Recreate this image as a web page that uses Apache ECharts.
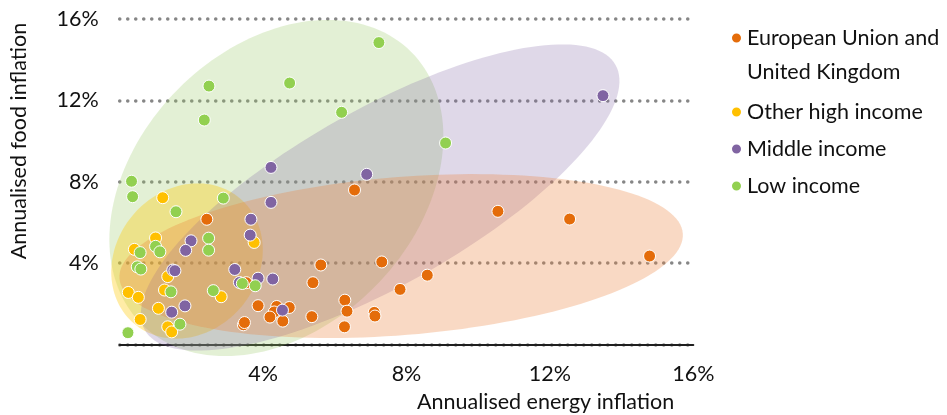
<!DOCTYPE html>
<html><head><meta charset="utf-8">
<script src="https://cdn.jsdelivr.net/npm/echarts@6/dist/echarts.min.js"></script>
<style>html,body{margin:0;padding:0;background:#fff}#c{width:947px;height:415px}</style>
</head><body><div id="c"></div>
<script>
// ---- data (x = annualised energy inflation %, y = annualised food inflation %) ----
const seriesNames = ['European Union and United Kingdom', 'Other high income', 'Middle income', 'Low income'];
const xTickLabels = ['4%', '8%', '12%', '16%'];
const yTickLabels = ['4%', '8%', '12%', '16%'];

const euData = [
  [2.43, 6.15], [6.55, 7.59], [10.55, 6.54], [12.55, 6.16], [14.78, 4.34],
  [5.61, 3.90], [7.31, 4.05], [8.58, 3.40], [7.82, 2.70], [5.39, 3.03],
  [3.53, 3.03], [3.86, 1.90], [4.38, 1.86], [4.73, 1.81], [4.31, 1.59],
  [4.19, 1.34], [4.55, 1.14], [3.45, 0.96], [3.48, 1.07], [5.36, 1.36],
  [6.28, 2.17], [6.34, 1.63], [6.27, 0.86], [7.10, 1.57], [7.12, 1.39]
];
const otherHighData = [
  [1.20, 7.21], [1.00, 5.23], [3.75, 5.01], [0.41, 4.67], [1.34, 3.33],
  [1.25, 2.67], [0.24, 2.55], [0.52, 2.31], [2.83, 2.34], [1.08, 1.77],
  [0.57, 1.22], [1.34, 0.86], [1.45, 0.61]
];
const middleData = [
  [13.48, 12.23], [4.22, 8.70], [6.89, 8.36], [4.22, 6.98], [3.66, 6.15],
  [3.64, 5.37], [1.99, 5.09], [1.84, 4.62], [3.21, 3.68], [1.48, 3.65],
  [1.54, 3.62], [3.86, 3.25], [4.27, 3.21], [3.34, 3.04], [1.82, 1.89],
  [1.45, 1.58], [4.54, 1.68]
];
const lowData = [
  [7.23, 14.84], [2.49, 12.70], [4.74, 12.85], [2.36, 11.03], [6.19, 11.41],
  [9.09, 9.90], [0.33, 8.02], [0.36, 7.26], [2.89, 7.19], [1.57, 6.52],
  [2.48, 5.22], [2.48, 4.63], [1.00, 4.82], [1.12, 4.55], [0.57, 4.51],
  [0.49, 3.81], [0.59, 3.70], [3.42, 2.99], [3.78, 2.88], [1.43, 2.58],
  [2.61, 2.64], [1.68, 0.99], [0.23, 0.57]
];
// shaded regions: [centreX, centreY, axis1X, axis1Y, axis2X, axis2Y] in data units
const euEllipse = [7.85, 4.34, 7.857, 1.114, -0.177, 3.874];
const middleEllipse = [7.265, 7.221, 6.565, 6.519, -1.206, 3.772];
const lowEllipse = [4.37, 7.688, 3.760, 6.695, -2.75, 4.85];
const otherHighEllipse = [1.878, 4.097, 1.471, 3.089, -1.518, 2.244];

// ---- chart ----
const FONT = 'Lato';
const FS = 21.5;
const markerColors = ['#E46C0A', '#FFC000', '#8064A2', '#92D050'];
const fillColors = ['rgba(236,130,60,0.30)', 'rgba(255,200,0,0.35)', 'rgba(128,100,162,0.25)', 'rgba(150,200,100,0.27)'];

function renderEllipse(params, api) {
  const cx = api.value(0), cy = api.value(1), ux = api.value(2), uy = api.value(3), vx = api.value(4), vy = api.value(5);
  const pts = [];
  const N = 160;
  for (let i = 0; i < N; i++) {
    const t = i / N * 2 * Math.PI;
    pts.push(api.coord([cx + ux * Math.cos(t) + vx * Math.sin(t), cy + uy * Math.cos(t) + vy * Math.sin(t)]));
  }
  return { type: 'polygon', shape: { points: pts }, style: { fill: api.visual('color') } };
}
function ellipseSeries(params, color) {
  return { type: 'custom', renderItem: renderEllipse, data: [params], itemStyle: { color: color },
    silent: true, z: 1, clip: false, dimensions: ['cx', 'cy', 'ux', 'uy', 'vx', 'vy'],
    encode: { x: 0, y: 1 } };
}
function scatterSeries(name, data, color) {
  return { type: 'scatter', name: name, data: data, symbolSize: 12, z: 5,
    itemStyle: { color: color, borderColor: '#ffffff', borderWidth: 1, opacity: 1 } };
}

const chart = echarts.init(document.getElementById('c'), null, { renderer: 'canvas' });
chart.setOption({
  animation: false,
  grid: { left: 119.7, right: 253.7, top: 19, bottom: 70.7, containLabel: false },
  xAxis: {
    type: 'value', min: 0, max: 16, interval: 4,
    axisLine: { show: true, lineStyle: { color: '#1f1f1f', width: 2 } },
    axisTick: { show: false }, splitLine: { show: false },
    axisLabel: { fontFamily: FONT, fontSize: FS, color: '#111', margin: 19,
      formatter: function (v) { return v === 0 ? '' : xTickLabels[v / 4 - 1]; } }
  },
  yAxis: {
    type: 'value', min: 0, max: 16, interval: 4,
    axisLine: { show: false }, axisTick: { show: false },
    splitLine: { show: true, lineStyle: { color: '#868686', width: 3.5, type: [0.1, 7.9], cap: 'round' } },
    axisLabel: { fontFamily: FONT, fontSize: FS, color: '#111', margin: 21,
      formatter: function (v) { return v === 0 ? '' : yTickLabels[v / 4 - 1]; } }
  },
  legend: {
    data: seriesNames, orient: 'vertical', left: 730, top: -16.5, padding: 0, itemGap: 2,
    icon: 'circle', itemWidth: 11, itemHeight: 11,
    textStyle: { fontFamily: FONT, fontSize: FS, color: '#111', lineHeight: 35,
      rich: { e: { fontFamily: FONT, fontSize: FS, lineHeight: 37.5, color: '#111' },
              a: { fontFamily: FONT, fontSize: FS, lineHeight: 34, color: '#111' },
              f: { fontFamily: FONT, fontSize: 2, lineHeight: 3.5, color: '#111' } } },
    formatter: function (name) {
      if (name === seriesNames[0]) return '{e| }\n{a|European Union and}\n{a|United Kingdom}\n{f| }';
      return name;
    }
  },
  graphic: [
    { type: 'text', left: 417, top: 391, style: { text: 'Annualised energy inflation', font: FS + 'px ' + FONT, fill: '#111' } },
    { type: 'text', x: 8, y: 141, rotation: Math.PI / 2,
      style: { text: 'Annualised food inflation', font: FS + 'px ' + FONT, fill: '#111', align: 'center', verticalAlign: 'top' } }
  ],
  series: [
    ellipseSeries(lowEllipse, fillColors[3]),
    ellipseSeries(otherHighEllipse, fillColors[1]),
    ellipseSeries(middleEllipse, fillColors[2]),
    ellipseSeries(euEllipse, fillColors[0]),
    scatterSeries(seriesNames[0], euData, markerColors[0]),
    scatterSeries(seriesNames[1], otherHighData, markerColors[1]),
    scatterSeries(seriesNames[2], middleData, markerColors[2]),
    scatterSeries(seriesNames[3], lowData, markerColors[3])
  ]
});
</script></body></html>
